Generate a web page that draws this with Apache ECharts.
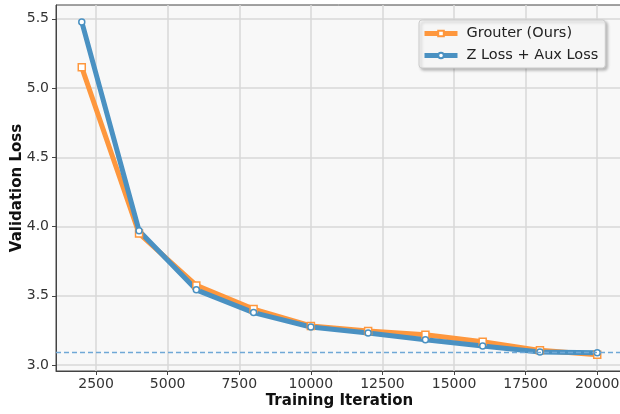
<!DOCTYPE html>
<html>
<head>
<meta charset="utf-8">
<script src="https://cdn.jsdelivr.net/npm/echarts@6/dist/echarts.min.js"></script>
<style>
  html, body { margin: 0; padding: 0; background: #fff; }
  #chart { width: 620px; height: 414px; }
</style>
</head>
<body>
<div id="chart"></div>
<script>
// training iterations
var iterations = [2000, 4000, 6000, 8000, 10000, 12000, 14000, 16000, 18000, 20000];
// validation loss
var grouterLoss = [5.15, 3.95, 3.575, 3.404, 3.282, 3.246, 3.219, 3.168, 3.106, 3.075];
var zAuxLoss = [5.478, 3.97, 3.543, 3.379, 3.275, 3.231, 3.183, 3.137, 3.094, 3.089];
var bestLoss = 3.089;

var xTicks = [2500, 5000, 7500, 10000, 12500, 15000, 17500, 20000];
var yTicks = [3.0, 3.5, 4.0, 4.5, 5.0, 5.5];

var FONT = 'DejaVu Sans';
var orange = '#fe973d';
var blue = '#4a91c2';

function pairs(xs, ys) {
  return xs.map(function (x, i) { return [x, ys[i]]; });
}

var chart = echarts.init(document.getElementById('chart'));
var option = {
  animation: false,
  textStyle: { fontFamily: FONT },
  grid: {
    left: 56, top: 5, right: -3, bottom: 43,
    outerBoundsMode: 'none',
    containLabel: false,
    show: true,
    backgroundColor: '#f8f8f8',
    borderColor: '#444',
    borderWidth: 1
  },
  legend: {
    left: 419, top: 20,
    orient: 'vertical',
    itemWidth: 33, itemHeight: 7,
    itemGap: 7,
    padding: [6, 7, 5, 3],
    backgroundColor: '#f6f6f6',
    borderColor: '#cccccc',
    borderWidth: 1,
    borderRadius: 3,
    shadowColor: 'rgba(0,0,0,0.25)',
    shadowBlur: 3,
    shadowOffsetX: 2,
    shadowOffsetY: 2,
    lineStyle: { width: 5 },
    textStyle: { fontFamily: FONT, fontSize: 14.5, color: '#222', padding: [0, 0, 0, 4] },
    data: ['Grouter (Ours)', 'Z Loss + Aux Loss']
  },
  xAxis: {
    type: 'value',
    min: 1100, max: 20900,
    name: 'Training Iteration',
    nameLocation: 'middle',
    nameGap: 23,
    nameMoveOverlap: false,
    nameTextStyle: { fontFamily: FONT, fontSize: 15, fontWeight: 'bold', color: '#111' },
    axisLine: { show: true, lineStyle: { color: '#444', width: 1 } },
    axisTick: { show: true, length: 4, customValues: xTicks, lineStyle: { color: '#444' } },
    axisLabel: {
      customValues: xTicks, margin: 6, fontSize: 14, color: '#333', fontFamily: FONT,
      formatter: function (v) { return String(v); }
    },
    splitLine: { show: true, lineStyle: { color: '#d8d8d8', width: 1.5 } }
  },
  yAxis: {
    type: 'value',
    min: 2.957, max: 5.60,
    name: 'Validation Loss',
    nameLocation: 'middle',
    nameGap: 31,
    nameMoveOverlap: false,
    nameTextStyle: { fontFamily: FONT, fontSize: 15, fontWeight: 'bold', color: '#111' },
    axisLine: { show: true, lineStyle: { color: '#444', width: 1 } },
    axisTick: { show: true, length: 4, customValues: yTicks, lineStyle: { color: '#444' } },
    axisLabel: {
      customValues: yTicks, margin: 7, fontSize: 14, color: '#333', fontFamily: FONT,
      formatter: function (v) { return v.toFixed(1); }
    },
    splitLine: { show: true, lineStyle: { color: '#d8d8d8', width: 1.5 } }
  },
  series: [
    {
      name: 'Grouter (Ours)',
      type: 'line',
      data: pairs(iterations, grouterLoss),
      symbol: 'rect',
      symbolSize: 7,
      showAllSymbol: true,
      lineStyle: { color: orange, width: 5 },
      itemStyle: { color: '#ffffff', borderColor: orange, borderWidth: 1.5 }
    },
    {
      name: 'Z Loss + Aux Loss',
      type: 'line',
      data: pairs(iterations, zAuxLoss),
      symbol: 'circle',
      symbolSize: 6,
      showAllSymbol: true,
      lineStyle: { color: blue, width: 5 },
      itemStyle: { color: '#ffffff', borderColor: blue, borderWidth: 1.5 },
      markLine: {
        silent: true,
        symbol: 'none',
        label: { show: false },
        lineStyle: { color: '#6fa8d6', type: [5, 3], width: 1.4 },
        data: [{ yAxis: bestLoss }]
      }
    }
  ]
};
chart.setOption(option);
</script>
</body>
</html>
